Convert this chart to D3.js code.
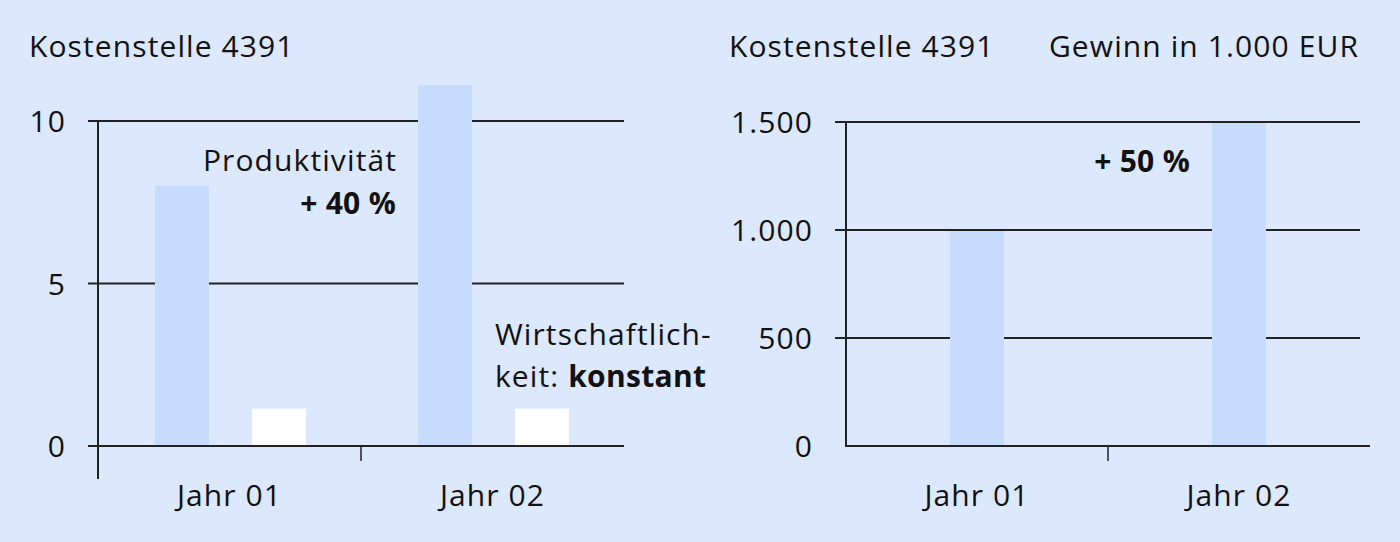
<!DOCTYPE html>
<html><head><meta charset="utf-8">
<script src="https://cdn.jsdelivr.net/npm/d3@7"></script>
<style>
html,body{margin:0;padding:0;background:#dce8fd;}
svg{display:block;}
text{font-family:"Open Sans",sans-serif;fill:#111;letter-spacing:1.1px;}
.b{font-weight:bold;letter-spacing:0.3px;}
</style></head>
<body>
<svg id="c" width="1400" height="542"></svg>
<script>
// ---- data ----
const categories = ["Jahr 01", "Jahr 02"];
const leftSeries = ["Produktivität", "Wirtschaftlichkeit"];
const leftProduktivitaet = [8.0, 11.1];
const leftWirtschaftlichkeit = [1.15, 1.15];
const leftTicks = [0, 5, 10];
const leftTickLabels = ["0", "5", "10"];
const rightGewinn = [1000, 1500];
const rightTicks = [0, 500, 1000, 1500];
const rightTickLabels = ["0", "500", "1.000", "1.500"];
const titleLeft = "Kostenstelle 4391";
const titleRight = "Kostenstelle 4391";
const unitRight = "Gewinn in 1.000 EUR";

const svg = d3.select("#c");
const barColors = {"Produktivität": "#c7dbfc", "Wirtschaftlichkeit": "#ffffff"};
const lineColor = "#222";
const FS = 30;

// ---------- LEFT CHART ----------
{
  const x0 = 98, x1 = 624, y0 = 446;
  const y = d3.scaleLinear().domain([0, 10]).range([y0, 121]);
  const xb = d3.scaleBand().domain(categories).range([x0, x1]);
  const xs = d3.scaleBand().domain(leftSeries).range([57, 208]).paddingInner(0.443);
  const g = svg.append("g");

  g.selectAll("line.grid").data(leftTicks).join("line")
    .attr("x1", x0 - 10).attr("x2", x1)
    .attr("y1", d => y(d)).attr("y2", d => y(d))
    .attr("stroke", lineColor).attr("stroke-width", 2);

  const rows = categories.map((c, i) => ({cat: c, vals: [
    {s: "Produktivität", v: leftProduktivitaet[i]},
    {s: "Wirtschaftlichkeit", v: leftWirtschaftlichkeit[i]}]}));
  g.selectAll("g.cat").data(rows).join("g")
    .attr("transform", d => `translate(${xb(d.cat)},0)`)
    .selectAll("rect").data(d => d.vals).join("rect")
    .attr("x", d => xs(d.s)).attr("width", xs.bandwidth())
    .attr("y", d => y(d.v)).attr("height", d => y0 - y(d.v) - 1)
    .attr("fill", d => barColors[d.s]);

  g.append("line").attr("x1", x0).attr("x2", x0).attr("y1", 121).attr("y2", 479)
    .attr("stroke", lineColor).attr("stroke-width", 2);
  g.append("line").attr("x1", xb(categories[1])).attr("x2", xb(categories[1]))
    .attr("y1", y0).attr("y2", y0 + 15).attr("stroke", lineColor).attr("stroke-width", 1.5);

  g.selectAll("text.tl").data(leftTicks).join("text")
    .attr("x", 66).attr("y", d => y(d) + 11)
    .attr("text-anchor", "end").attr("font-size", FS)
    .text((d, i) => leftTickLabels[i]);
  g.selectAll("text.cl").data(categories).join("text")
    .attr("x", d => xb(d) + xb.bandwidth() / 2).attr("y", 506)
    .attr("text-anchor", "middle").attr("font-size", FS).text(d => d);

  g.append("text").attr("x", 29).attr("y", 57).attr("font-size", FS).text(titleLeft);
  g.append("text").attr("x", 397).attr("y", 171).attr("text-anchor", "end").attr("font-size", FS).text("Produktivität");
  g.append("text").attr("class", "b").attr("x", 396).attr("y", 214).attr("text-anchor", "end").attr("font-size", FS).text("+ 40 %");
  g.append("text").attr("x", 495).attr("y", 345).attr("font-size", FS).text("Wirtschaftlich-");
  const t2 = g.append("text").attr("x", 495).attr("y", 387).attr("font-size", FS);
  t2.append("tspan").text("keit: ");
  t2.append("tspan").attr("class", "b").text("konstant");
}

// ---------- RIGHT CHART ----------
{
  const x0 = 846, x1 = 1370, y0 = 446;
  const y = d3.scaleLinear().domain([0, 1500]).range([y0, 122]);
  const xb = d3.scaleBand().domain(categories).range([x0, x1]);
  const bw = 54;
  const g = svg.append("g");

  g.selectAll("line.grid").data(rightTicks.filter(d => d > 0)).join("line")
    .attr("x1", x0 - 11).attr("x2", 1360)
    .attr("y1", d => y(d)).attr("y2", d => y(d))
    .attr("stroke", lineColor).attr("stroke-width", 2);

  g.selectAll("rect").data(categories).join("rect")
    .attr("x", d => xb(d) + xb.bandwidth() / 2 - bw / 2).attr("width", bw)
    .attr("y", (d, i) => y(rightGewinn[i]) + 1)
    .attr("height", (d, i) => y0 - y(rightGewinn[i]) - 2)
    .attr("fill", barColors["Produktivität"]);

  g.append("line").attr("x1", x0).attr("x2", x1).attr("y1", y0).attr("y2", y0)
    .attr("stroke", lineColor).attr("stroke-width", 2);
  g.append("line").attr("x1", x0).attr("x2", x0).attr("y1", 122).attr("y2", y0 + 1)
    .attr("stroke", lineColor).attr("stroke-width", 2);
  g.append("line").attr("x1", xb(categories[1])).attr("x2", xb(categories[1]))
    .attr("y1", y0).attr("y2", y0 + 15).attr("stroke", lineColor).attr("stroke-width", 1.5);

  g.selectAll("text.tl").data(rightTicks).join("text")
    .attr("x", 813).attr("y", d => y(d) + 11)
    .attr("text-anchor", "end").attr("font-size", FS)
    .text((d, i) => rightTickLabels[i]);
  g.selectAll("text.cl").data(categories).join("text")
    .attr("x", d => xb(d) + xb.bandwidth() / 2).attr("y", 506)
    .attr("text-anchor", "middle").attr("font-size", FS).text(d => d);

  g.append("text").attr("x", 729).attr("y", 57).attr("font-size", FS).text(titleRight);
  g.append("text").attr("x", 1359).attr("y", 57).attr("text-anchor", "end").attr("font-size", FS).text(unitRight);
  g.append("text").attr("class", "b").attr("x", 1190).attr("y", 172).attr("text-anchor", "end").attr("font-size", FS).text("+ 50 %");
}
</script>
</body></html>
